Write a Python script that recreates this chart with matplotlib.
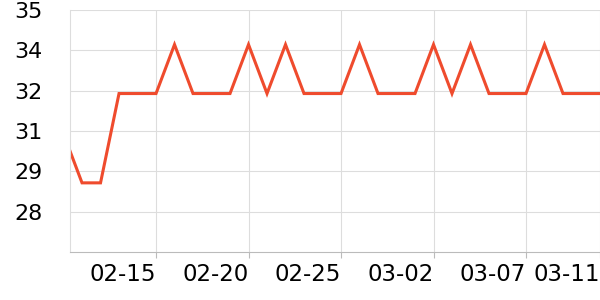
import matplotlib
matplotlib.use("Agg")
from matplotlib import pyplot as plt
import pandas as pd

# daily values, 2023-02-10 .. 2023-03-11
dates = pd.date_range("2023-02-10", "2023-03-11", freq="D")
values = [30.7, 29.0, 29.0, 32.1, 32.1, 32.1, 33.8, 32.1, 32.1, 32.1,
          33.8, 32.1, 33.8, 32.1, 32.1, 32.1, 33.8, 32.1, 32.1, 32.1,
          33.8, 32.1, 33.8, 32.1, 32.1, 32.1, 33.8, 32.1, 32.1, 32.1]

tick_dates = pd.to_datetime(["2023-02-15", "2023-02-20", "2023-02-25",
                             "2023-03-02", "2023-03-07", "2023-03-11"])
tick_labels = ["02-15", "02-20", "02-25", "03-02", "03-07", "03-11"]
y_ticks = [28.0, 29.4, 30.8, 32.2, 33.6, 35.0]
y_labels = ["28", "29", "31", "32", "34", "35"]

fig = plt.figure(figsize=(6, 3), dpi=100)
ax = fig.add_axes([70/600, 1-252/300, 530/600, 242/300])

ax.plot(dates, values, color="#ef4b2d", lw=2.2, solid_joinstyle="miter")

ax.set_xlim(pd.Timestamp("2023-02-10 08:24"), pd.Timestamp("2023-03-11"))
ax.set_ylim(26.6, 35.0)

ax.set_xticks(tick_dates)
ax.set_xticklabels(tick_labels, ha="right", fontsize=16.5)
ax.set_yticks(y_ticks)
ax.set_yticklabels(y_labels, fontsize=16)

ax.grid(True, color="#dddddd", lw=0.8)
ax.set_axisbelow(True)
for s in ["top", "right"]:
    ax.spines[s].set_visible(False)
ax.spines["left"].set_color("#dddddd")
ax.spines["left"].set_linewidth(0.8)
ax.spines["bottom"].set_color("#bbbbbb")
ax.spines["bottom"].set_linewidth(0.8)
ax.tick_params(axis="y", length=0, pad=20)
ax.tick_params(axis="x", length=4, color="#bbbbbb", width=0.8, pad=4)

fig.savefig("out.png", dpi=100)
